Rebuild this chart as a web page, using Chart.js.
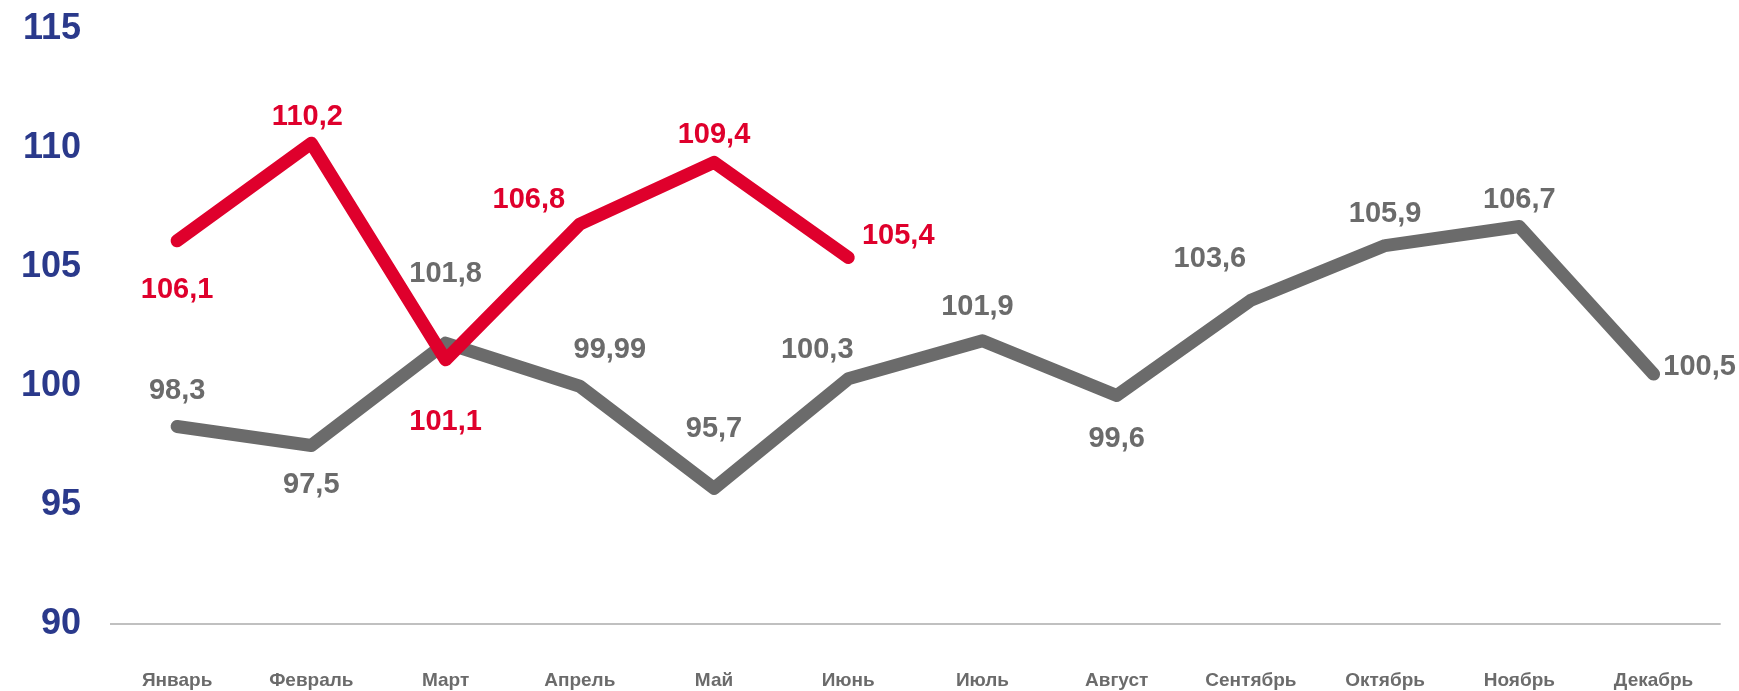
<!DOCTYPE html>
<html>
<head>
<meta charset="utf-8">
<script src="https://cdn.jsdelivr.net/npm/chart.js@4/dist/chart.umd.min.js"></script>
<style>
    body { margin: 0; background: #fff; }
    #wrap { width: 1739px; height: 691px; }
</style>
</head>
<body>
<div id="wrap"><canvas id="lineChart" width="1739" height="691"></canvas></div>
<script>
// Месяцы
const months = ["Январь", "Февраль", "Март", "Апрель", "Май", "Июнь", "Июль", "Август", "Сентябрь", "Октябрь", "Ноябрь", "Декабрь"];
// Текущий год (красная линия)
const currentYear = [106.1, 110.2, 101.1, 106.8, 109.4, 105.4];
// Прошлый год (серая линия)
const previousYear = [98.3, 97.5, 101.8, 99.99, 95.7, 100.3, 101.9, 99.6, 103.6, 105.9, 106.7, 100.5];
// Деления оси Y
const yTicks = [90, 95, 100, 105, 110, 115];

const RED = "#df002c";
const GRAY = "#6b6b6b";

// Смещения подписей относительно точек
const labelOffsets = [
    [[0, 49], [-4, -26], [0, 62], [-51, -24], [0, -27], [50, -21]],
    [[0, -35], [0, 39], [0, -69], [30, -36], [0, -59], [-31, -29], [-5, -34], [0, 43], [-41, -41], [0, -32], [0, -27], [46, -7]]
];

const valueLabels = {
    id: 'valueLabels',
    afterDatasetsDraw(chart) {
        const ctx = chart.ctx;
        ctx.save();
        ctx.font = "bold 29px 'Liberation Sans', Arial, sans-serif";
        ctx.textAlign = "center";
        ctx.textBaseline = "middle";
        chart.data.datasets.forEach((ds, i) => {
            const meta = chart.getDatasetMeta(i);
            ctx.fillStyle = ds.borderColor;
            meta.data.forEach((pt, j) => {
                const off = labelOffsets[i][j];
                const txt = String(ds.data[j]).replace(".", ",");
                ctx.fillText(txt, pt.x + off[0], pt.y + off[1]);
            });
        });
        ctx.restore();
    }
};

new Chart(document.getElementById("lineChart"), {
    type: 'line',
    data: {
        labels: months,
        datasets: [{
            label: "Текущий год",
            data: currentYear,
            borderColor: RED,
            backgroundColor: RED,
            borderWidth: 13,
            borderCapStyle: 'round',
            borderJoinStyle: 'round',
            pointRadius: 0,
            tension: 0
        }, {
            label: "Прошлый год",
            data: previousYear,
            borderColor: GRAY,
            backgroundColor: GRAY,
            borderWidth: 13,
            borderCapStyle: 'round',
            borderJoinStyle: 'round',
            pointRadius: 0,
            tension: 0
        }]
    },
    options: {
        responsive: false,
        animation: false,
        layout: { padding: { top: 29, right: 17, left: 0, bottom: 0 } },
        plugins: {
            legend: { display: false },
            tooltip: { enabled: false }
        },
        scales: {
            x: {
                offset: true,
                afterFit(scale) { scale.height = 67; },
                grid: { display: false, drawTicks: false },
                border: { display: false },
                ticks: {
                    padding: 45,
                    color: GRAY,
                    maxRotation: 0,
                    autoSkip: false,
                    font: { family: "'Liberation Sans', Arial, sans-serif", weight: 'bold', size: 19 }
                }
            },
            y: {
                min: 90,
                max: 115,
                afterFit(scale) {
                    scale.width = 110;
                    scale.paddingTop = 0;
                    scale.paddingBottom = 0;
                },
                afterBuildTicks(scale) { scale.ticks = yTicks.map(v => ({ value: v })); },
                grid: {
                    drawTicks: false,
                    color: ctx => ctx.tick.value === 90 ? "#c0c0c0" : "rgba(0,0,0,0)",
                    lineWidth: 2
                },
                border: { display: false },
                ticks: {
                    padding: 29,
                    color: "#2a398b",
                    font: { family: "'Liberation Sans', Arial, sans-serif", weight: 'bold', size: 36 }
                }
            }
        }
    },
    plugins: [valueLabels]
});
</script>
</body>
</html>
